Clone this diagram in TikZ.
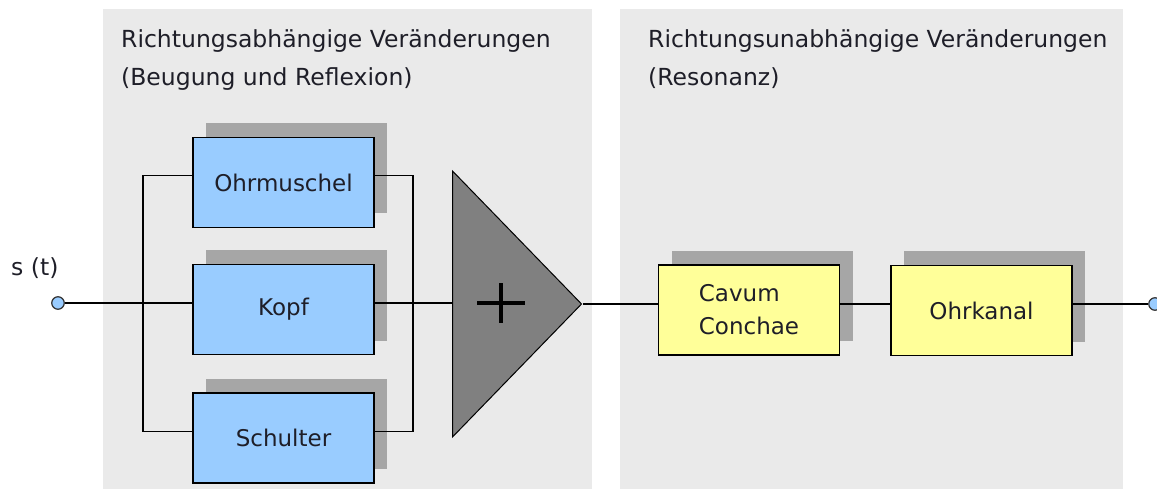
\documentclass[tikz,border=0pt]{standalone}
\usepackage{fontspec}
\setmainfont{DejaVu Sans}
\usetikzlibrary{shapes.geometric,shadows}

\definecolor{panelgray}{HTML}{EAEAEA}
\definecolor{boxblue}{HTML}{99CCFF}
\definecolor{boxyellow}{HTML}{FFFF99}
\definecolor{shadowgray}{HTML}{A6A6A6}
\definecolor{sumgray}{HTML}{808080}
\definecolor{inktext}{HTML}{1E1E28}

\tikzset{
  panel/.style={fill=panelgray, draw=none},
  heading/.style={anchor=base west, inner sep=0pt, text=inktext,
    font=\fontsize{23.5}{28}\selectfont},
  filterbox/.style={draw=black, line width=1.3pt, inner sep=0pt,
    minimum width=181pt, minimum height=90pt, text=inktext,
    font=\fontsize{23}{33}\selectfont, align=left,
    drop shadow={shadow xshift=13pt, shadow yshift=14pt,
      fill=shadowgray, opacity=1}},
  bluebox/.style={filterbox, fill=boxblue},
  yellowbox/.style={filterbox, fill=boxyellow},
  wire/.style={draw=black, line width=1.2pt},
  port/.style={circle, draw=black!80, line width=1.2pt, fill=boxblue,
    minimum size=12.5pt, inner sep=0pt},
  adder/.style={isosceles triangle, isosceles triangle stretches,
    shape border rotate=0, draw=black, line width=1pt, fill=sumgray,
    minimum width=266pt, minimum height=129pt, inner sep=0pt}
}

\begin{document}
\begin{tikzpicture}[x=1pt, y=-1pt]
  \useasboundingbox (0,0) rectangle (1157,489);

  % background panels
  \path[panel] (103,9) rectangle (592,489);
  \path[panel] (620,9) rectangle (1123,489);

  % panel headings
  \node[heading] (hl1) at (121,48) {Richtungsabhängige Veränderungen};
  \node[heading] (hl2) at (121,86) {(Beugung und Reflexion)};
  \node[heading] (hr1) at (648,48) {Richtungsunabhängige Veränderungen};
  \node[heading] (hr2) at (648,86) {(Resonanz)};

  % input / output ports
  \node[heading] (slabel) at (11,276) {s (t)};
  \node[port] (in) at (58,303) {};
  \node[port] (out) at (1155,304) {};

  % direction dependent filters
  \node[bluebox] (ohr) at (283.5,182.5) {Ohrmuschel};
  \node[bluebox] (kopf) at (283.5,309.5) {Kopf};
  \node[bluebox] (schulter) at (283.5,438) {Schulter};

  % summing stage
  \node[adder, anchor=lower side] (sum) at (452,304) {};
  \draw[line width=4pt] (477,303) -- (525,303);
  \draw[line width=4pt] (501,283) -- (501,323);

  % resonance filters
  \node[yellowbox] (cavum) at (749,310) {Cavum\\Conchae};
  \node[yellowbox] (kanal) at (981.5,310.5) {Ohrkanal};

  % branch junctions
  \coordinate (splitT) at (143,175.5);
  \coordinate (splitB) at (143,431.5);
  \coordinate (joinT) at (413,175.5);
  \coordinate (joinB) at (413,431.5);

  % wiring
  \draw[wire] (in) -- ([yshift=6.5pt]kopf.west);
  \draw[wire] (splitT) -- (splitB);
  \draw[wire] (splitT) -- ([yshift=7pt]ohr.west);
  \draw[wire] (splitB) -- ([yshift=6.5pt]schulter.west);
  \draw[wire] ([yshift=7pt]ohr.east) -- (joinT) -- (joinB)
    -- ([yshift=6.5pt]schulter.east);
  \draw[wire] ([yshift=6.5pt]kopf.east) -- (sum.lower side |- 0,303);
  \draw[wire] (sum.apex) -- ([yshift=6pt]cavum.west);
  \draw[wire] ([yshift=6pt]cavum.east) -- ([yshift=6.5pt]kanal.west);
  \draw[wire] ([yshift=6.5pt]kanal.east) -- (out);
\end{tikzpicture}
\end{document}
